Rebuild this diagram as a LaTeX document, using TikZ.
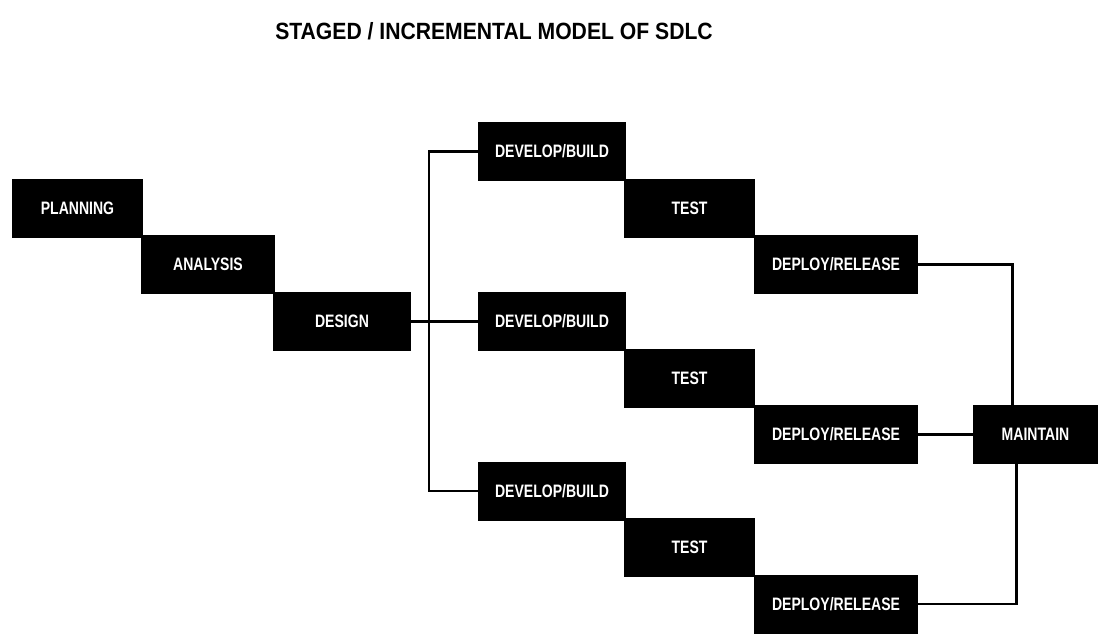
\documentclass[tikz,border=0pt]{standalone}
\usepackage{fontspec}
\usepackage{tikz}
\usetikzlibrary{positioning}
\newfontfamily\stagefont[FakeStretch=0.78]{Liberation Sans}
\newfontfamily\headfont[FakeStretch=0.9]{Liberation Sans}

\begin{document}
\begin{tikzpicture}[x=1pt,y=-1pt,
  stage/.style={fill=black,text=white,inner sep=0pt,minimum height=59pt,
    font=\stagefont\bfseries\fontsize{18}{18}\selectfont},
  link/.style={line width=2.5pt,line cap=rect}]
\useasboundingbox [fill=white] (0,0) rectangle (1100,640);

\node [font=\headfont\bfseries\fontsize{23.5}{24}\selectfont] (title) at (494,31) {STAGED / INCREMENTAL MODEL OF SDLC};

\node [stage,minimum width=131pt] (plan) at (77.5,208) {PLANNING};
\node [stage,minimum width=134pt] (anl) at (208,264.5) {ANALYSIS};
\node [stage,minimum width=138pt] (dsgn) at (342,321.5) {DESIGN};

\node [stage,minimum width=148pt] (dev1) at (552,151.5) {DEVELOP/BUILD};
\node [stage,minimum width=131pt] (tst1) at (689.5,208) {TEST};
\node [stage,minimum width=164pt] (dep1) at (836,264.5) {DEPLOY/RELEASE};

\node [stage,minimum width=148pt] (dev2) at (552,321.5) {DEVELOP/BUILD};
\node [stage,minimum width=131pt] (tst2) at (689.5,378) {TEST};
\node [stage,minimum width=164pt] (dep2) at (836,434.5) {DEPLOY/RELEASE};

\node [stage,minimum width=148pt] (dev3) at (552,491) {DEVELOP/BUILD};
\node [stage,minimum width=131pt] (tst3) at (689.5,547.5) {TEST};
\node [stage,minimum width=164pt] (dep3) at (836,604) {DEPLOY/RELEASE};

\node [stage,minimum width=125pt] (mnt) at (1035.5,434.5) {MAINTAIN};

% design fans out to the three increments
\coordinate (split) at (429,321.5);
\draw [link] (dsgn) -- (dev2);
\draw [link] (dev1.west) -| (split) |- (dev3.west);

% releases join into maintenance
\draw [link] (dep1.east) -| ([xshift=-23pt]mnt.north);
\draw [link] (dep2) -- (mnt);
\draw [link] (dep3.east) -| ([xshift=-19pt]mnt.south);
\end{tikzpicture}
\end{document}
